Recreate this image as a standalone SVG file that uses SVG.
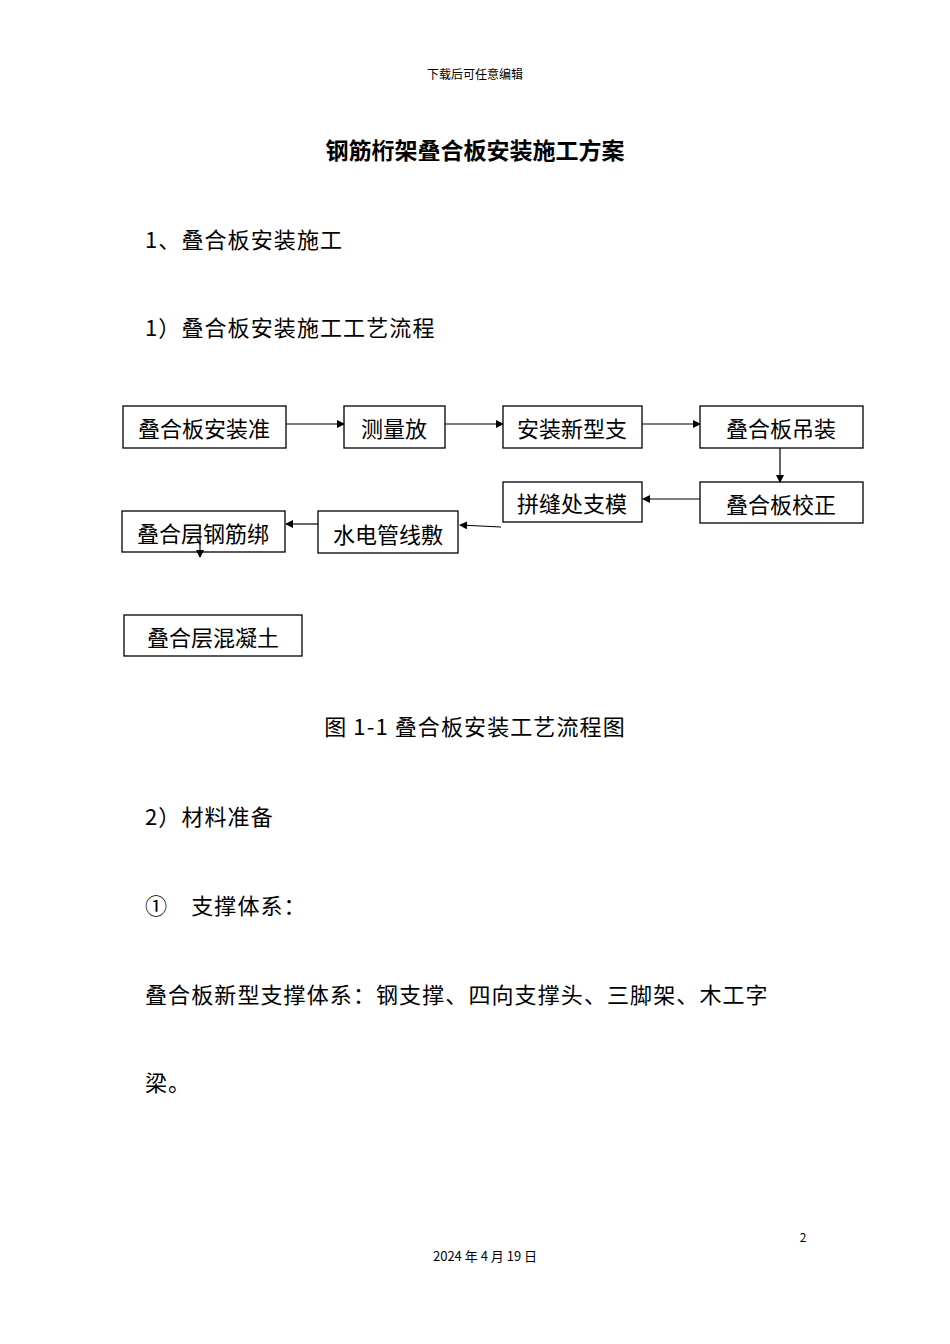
<svg xmlns="http://www.w3.org/2000/svg" width="950" height="1344" viewBox="0 0 950 1344">
<style>
text{font-family:"Noto Sans CJK SC","Liberation Sans",sans-serif;fill:#000}
.b{fill:#fff;stroke:#000;stroke-width:1.3}
.n{font-size:22px}
.p{font-size:22px;letter-spacing:1.1px}
.c line{stroke:#000;stroke-width:1.2}
</style>
<defs><marker id="a" markerWidth="8" markerHeight="8" refX="7" refY="4" orient="auto" markerUnits="userSpaceOnUse"><path d="M0,0L8,4L0,8z" fill="#000"/></marker></defs>
<rect width="950" height="1344" fill="#fff"/>
<text x="475" y="79" font-size="12" text-anchor="middle" fill="#555">下载后可任意编辑</text>
<text x="475" y="159" font-size="23" font-weight="bold" text-anchor="middle">钢筋桁架叠合板安装施工方案</text>
<text class="p" x="145" y="248">1、叠合板安装施工</text>
<text class="p" x="145" y="336">1）叠合板安装施工工艺流程</text>
<g id="n1"><rect class="b" x="123" y="406" width="163" height="42"/><text class="n" x="204" y="437" text-anchor="middle">叠合板安装准</text></g>
<g id="n2"><rect class="b" x="344" y="406" width="101" height="42"/><text class="n" x="394" y="437" text-anchor="middle">测量放</text></g>
<g id="n3"><rect class="b" x="503" y="406" width="139" height="42"/><text class="n" x="572" y="437" text-anchor="middle">安装新型支</text></g>
<g id="n4"><rect class="b" x="700" y="406" width="163" height="42"/><text class="n" x="781" y="437" text-anchor="middle">叠合板吊装</text></g>
<g id="n5"><rect class="b" x="700" y="482" width="163" height="41"/><text class="n" x="781" y="513" text-anchor="middle">叠合板校正</text></g>
<g id="n6"><rect class="b" x="503" y="482" width="139" height="40"/><text class="n" x="572" y="512" text-anchor="middle">拼缝处支模</text></g>
<g id="n7"><rect class="b" x="318" y="511" width="140" height="42"/><text class="n" x="388" y="543" text-anchor="middle">水电管线敷</text></g>
<g id="n8"><rect class="b" x="122" y="511" width="163" height="41"/><text class="n" x="203" y="542" text-anchor="middle">叠合层钢筋绑</text></g>
<g id="n9"><rect class="b" x="124" y="615" width="178" height="41"/><text class="n" x="213" y="646" text-anchor="middle">叠合层混凝土</text></g>
<g class="c">
<line x1="286" y1="424" x2="344" y2="424" marker-end="url(#a)"/>
<line x1="445" y1="424" x2="503" y2="424" marker-end="url(#a)"/>
<line x1="642" y1="424" x2="700" y2="424" marker-end="url(#a)"/>
<line x1="780" y1="448" x2="780" y2="482" marker-end="url(#a)"/>
<line x1="700" y1="499" x2="643" y2="499" marker-end="url(#a)"/>
<line x1="501" y1="527" x2="460" y2="525" marker-end="url(#a)"/>
<line x1="318" y1="524" x2="286" y2="524" marker-end="url(#a)"/>
<line x1="200" y1="525" x2="200" y2="557" marker-end="url(#a)"/>
</g>
<text class="p" x="475" y="735" text-anchor="middle">图 1-1 叠合板安装工艺流程图</text>
<text class="p" x="145" y="825">2）材料准备</text>
<text class="p" x="145" y="914">①　支撑体系：</text>
<text class="p" x="145" y="1003">叠合板新型支撑体系：钢支撑、四向支撑头、三脚架、木工字</text>
<text class="p" x="145" y="1091">梁。</text>
<text x="803" y="1242" font-size="12" text-anchor="middle">2</text>
<text x="485" y="1261" font-size="13" text-anchor="middle">2024 年 4 月 19 日</text>
</svg>
